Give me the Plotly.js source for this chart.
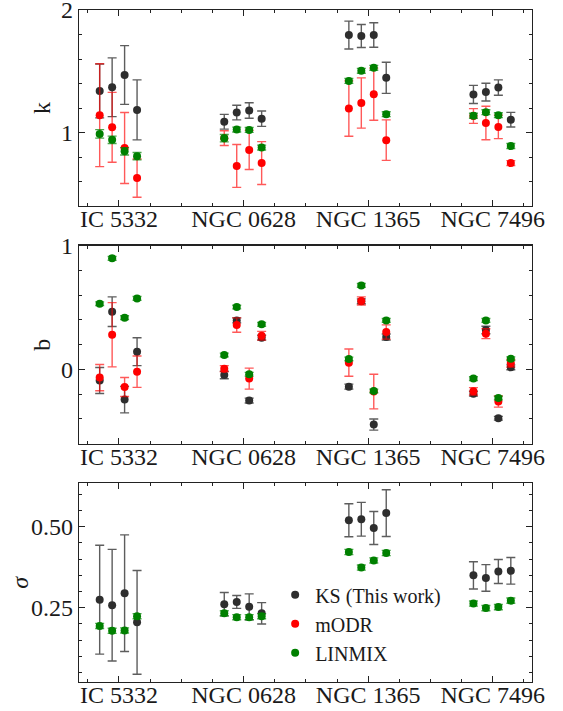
<!DOCTYPE html>
<html>
<head>
<meta charset="utf-8">
<script src="https://cdn.plot.ly/plotly-3.0.1.min.js"></script>
<style>html,body{margin:0;padding:0;background:#fff;}#chart{width:563px;height:711px;}</style>
</head>
<body>
<div id="chart"></div>
<script>
// Categories
const galaxies = ["IC 5332", "NGC 0628", "NGC 1365", "NGC 7496"];

// Panel k
const kKS      = [1.34, 1.37, 1.47, 1.185,  1.088, 1.163, 1.18, 1.113,  1.796, 1.788, 1.796, 1.447,  1.311, 1.33, 1.367, 1.105];
const kKSErr   = [0.22, 0.24, 0.24, 0.245,  0.06, 0.06, 0.063, 0.063,  0.114, 0.094, 0.1, 0.127,  0.074, 0.072, 0.063, 0.06];
const kODR     = [1.142, 1.043, 0.874, 0.628,  0.954, 0.727, 0.858, 0.751,  1.196, 1.241, 1.313, 0.938,  1.135, 1.078, 1.046, 0.751];
const kODRErr  = [0.42, 0.285, 0.29, 0.156,  0.06, 0.175, 0.16, 0.175,  0.226, 0.205, 0.213, 0.165,  0.06, 0.137, 0.096, 0.02];
const kLIN     = [0.989, 0.941, 0.847, 0.807,  0.954, 1.024, 1.021, 0.877,  1.421, 1.504, 1.528, 1.15,  1.137, 1.166, 1.142, 0.89];
const kLINErr  = [0.035, 0.03, 0.03, 0.03,  0.03, 0.02, 0.02, 0.02,  0.02, 0.02, 0.02, 0.02,  0.02, 0.02, 0.02, 0.02];

// Panel b
const bKS      = [-0.09, 0.466, -0.245, 0.143,  -0.046, 0.396, -0.253, 0.256,  -0.14, 0.55, -0.447, 0.261,  -0.197, 0.318, -0.396, 0.016];
const bKSErr   = [0.105, 0.12, 0.107, 0.113,  0.03, 0.02, 0.02, 0.02,  0.02, 0.02, 0.045, 0.025,  0.02, 0.03, 0.015, 0.02];
const bODR     = [-0.067, 0.28, -0.143, -0.019,  0.005, 0.358, -0.075, 0.272,  0.054, 0.553, -0.18, 0.302,  -0.178, 0.288, -0.261, 0.049];
const bODRErr  = [0.106, 0.26, 0.077, 0.127,  0.025, 0.058, 0.085, 0.035,  0.11, 0.033, 0.14, 0.058,  0.03, 0.04, 0.045, 0.03];
const bLIN     = [0.531, 0.898, 0.418, 0.574,  0.116, 0.504, -0.04, 0.364,  0.084, 0.679, -0.175, 0.396,  -0.075, 0.396, -0.232, 0.086];
const bLINErr  = [0.015, 0.015, 0.015, 0.015,  0.015, 0.015, 0.015, 0.015,  0.015, 0.015, 0.015, 0.015,  0.015, 0.015, 0.015, 0.015];

// Panel sigma
const sKS      = [0.275, 0.258, 0.295, 0.205,  0.261, 0.268, 0.253, 0.233,  0.52, 0.523, 0.496, 0.542,  0.35, 0.342, 0.362, 0.364];
const sKSErr   = [0.168, 0.172, 0.18, 0.16,  0.036, 0.02, 0.04, 0.033,  0.051, 0.052, 0.051, 0.072,  0.042, 0.041, 0.037, 0.041];
const sLIN     = [0.194, 0.179, 0.18, 0.224,  0.233, 0.221, 0.221, 0.224,  0.422, 0.374, 0.396, 0.419,  0.263, 0.249, 0.252, 0.272];
const sLINErr  = [0.008, 0.008, 0.008, 0.008,  0.008, 0.008, 0.008, 0.008,  0.008, 0.008, 0.008, 0.008,  0.008, 0.008, 0.008, 0.008];

const seriesNames = ["KS (This work)", "mODR", "LINMIX"];

// x positions: galaxy index + small offset per run
const offsets = [-0.155, -0.055, 0.045, 0.145];
const xPos = [];
galaxies.forEach((g, gi) => offsets.forEach(o => xPos.push(gi + o)));

const styles = {
  ks:  {marker: "#2e2e2e", bar: "rgba(30,30,30,0.72)"},
  odr: {marker: "#ff0000", bar: "rgba(255,0,0,0.65)"},
  lin: {marker: "#008000", bar: "rgba(0,128,0,0.7)"}
};

function tr(y, err, st, name, xa, ya, showlegend) {
  return {
    type: "scatter", mode: "markers", x: xPos, y: y,
    xaxis: xa, yaxis: ya, name: name, showlegend: showlegend,
    marker: {color: st.marker, size: 8},
    error_y: {type: "data", array: err, visible: true, color: st.bar, thickness: 1.4, width: 4.5}
  };
}

const data = [
  tr(kKS, kKSErr, styles.ks, seriesNames[0], "x", "y", true),
  tr(kODR, kODRErr, styles.odr, seriesNames[1], "x", "y", true),
  tr(kLIN, kLINErr, styles.lin, seriesNames[2], "x", "y", true),
  tr(bKS, bKSErr, styles.ks, seriesNames[0], "x2", "y2", false),
  tr(bODR, bODRErr, styles.odr, seriesNames[1], "x2", "y2", false),
  tr(bLIN, bLINErr, styles.lin, seriesNames[2], "x2", "y2", false),
  tr(sKS, sKSErr, styles.ks, seriesNames[0], "x3", "y3", false),
  tr(sLIN, sLINErr, styles.lin, seriesNames[2], "x3", "y3", false)
];

const serif = "'Liberation Serif', 'DejaVu Serif', serif";
const font = {family: serif, size: 24, color: "#1a1a1a"};

function xax(anchor) {
  return {
    anchor: anchor, range: [-0.321, 3.315],
    tickmode: "array", tickvals: [0, 1, 2, 3], ticktext: galaxies,
    ticks: "inside", ticklen: 6, tickwidth: 1, tickcolor: "#222",
    minor: {dtick: 0.25, tick0: 0, ticks: "inside", ticklen: 3, tickwidth: 1, tickcolor: "#222"},
    showline: true, linecolor: "#222", linewidth: 1.3, mirror: "ticks",
    showgrid: false, zeroline: false, tickfont: font, ticklabelstandoff: -9
  };
}
function yax(anchor, domain, range, dtick, tick0, minorD, title, tickformat, standoff) {
  return {
    anchor: anchor, domain: domain, range: range,
    dtick: dtick, tick0: tick0, tickformat: tickformat,
    ticks: "inside", ticklen: 6, tickwidth: 1, tickcolor: "#222",
    minor: {dtick: minorD, ticks: "inside", ticklen: 3, tickwidth: 1, tickcolor: "#222"},
    showline: true, linecolor: "#222", linewidth: 1.3, mirror: "ticks",
    showgrid: false, zeroline: false, tickfont: font, ticklabeloverflow: "allow",
    title: {text: title, font: font, standoff: standoff}
  };
}

const layout = {
  width: 563, height: 711,
  margin: {l: 79, r: 31, t: 10, b: 29},
  paper_bgcolor: "#fff", plot_bgcolor: "#fff",
  font: {family: serif},
  showlegend: true,
  legend: {x: 0.433, y: 0.1588, xanchor: "left", yanchor: "top",
           bgcolor: "rgba(0,0,0,0)", font: {family: serif, size: 20, color: "#1a1a1a"}},
  xaxis: xax("y"),
  xaxis2: xax("y2"),
  xaxis3: xax("y3"),
  yaxis: yax("x", [0.7083, 1], [0.4, 2.0005], 1, 0, 0.2, "k", "", 3),
  yaxis2: yax("x2", [0.3542, 0.6493], [-0.604, 1.0005], 1, 0, 0.2, "b", "", 3),
  yaxis3: yax("x3", [0, 0.2957], [0.021, 0.634], 0.25, 0, 0.05, "", ".2f", 3),
  annotations: [{
    text: "<i>σ</i>", xref: "paper", yref: "paper", x: -0.130, y: 0.1479,
    xanchor: "center", yanchor: "middle", textangle: -90, showarrow: false, font: font
  }]
};

Plotly.newPlot("chart", data, layout, {displayModeBar: false, staticPlot: true});
</script>
</body>
</html>
